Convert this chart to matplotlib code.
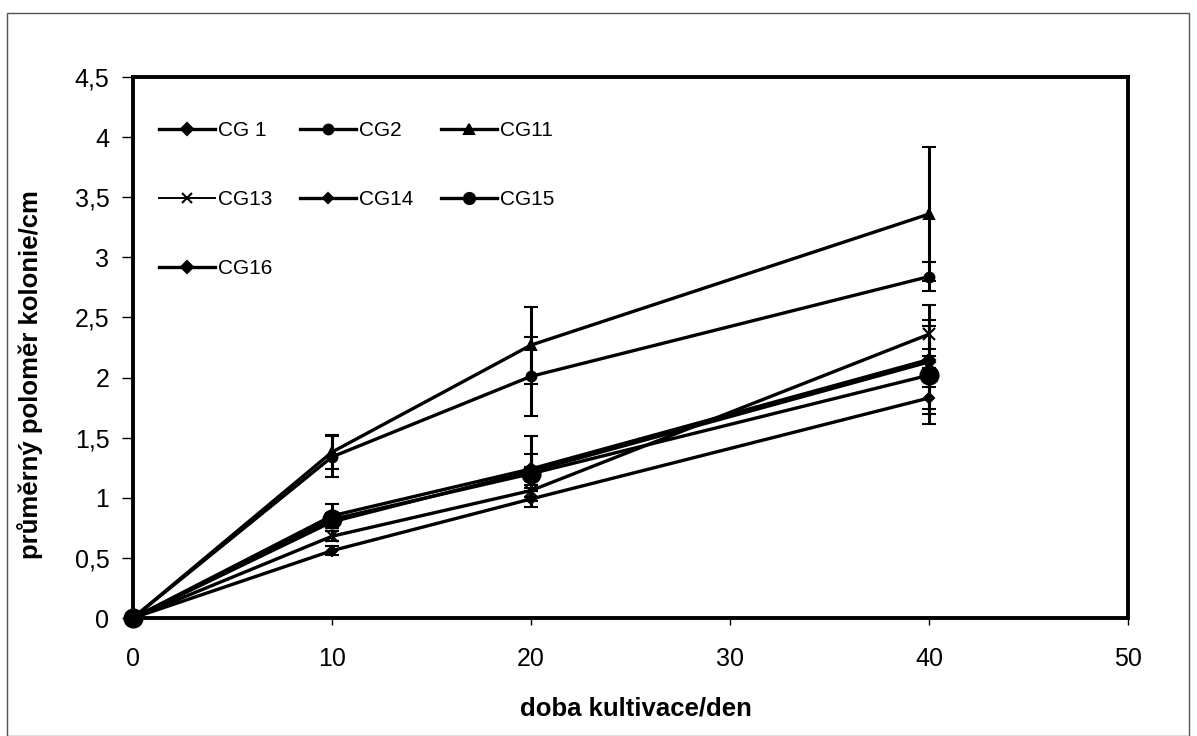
import matplotlib.pyplot as plt
from matplotlib.lines import Line2D
from matplotlib.patches import Rectangle

plt.rcParams['font.family'] = ['Liberation Sans', 'DejaVu Sans']

# culture time / days
days = [0, 10, 20, 40]

labels = ["CG 1", "CG2", "CG11", "CG13", "CG14", "CG15", "CG16"]

cg1 = [0, 0.85, 1.24, 2.15]
cg2 = [0, 1.34, 2.01, 2.84]
cg11 = [0, 1.38, 2.27, 3.36]
cg13 = [0, 0.68, 1.06, 2.36]
cg14 = [0, 0.56, 0.99, 1.83]
cg15 = [0, 0.82, 1.20, 2.02]
cg16 = [0, 0.80, 1.22, 2.13]

err_cg1 = [0, 0.10, 0.27, 0.45]
err_cg2 = [0, 0.17, 0.33, 0.12]
err_cg11 = [0, 0.14, 0.32, 0.56]
err_cg13 = [0, 0.04, 0.05, 0.12]
err_cg14 = [0, 0.04, 0.07, 0.09]
err_cg15 = [0, 0.05, 0.06, 0.41]
err_cg16 = [0, 0.05, 0.14, 0.05]

series = [cg1, cg2, cg11, cg13, cg14, cg15, cg16]
errors = [err_cg1, err_cg2, err_cg11, err_cg13, err_cg14, err_cg15, err_cg16]
markers = ["D", "o", "^", "x", "D", "o", "D"]
msizes = [6, 7, 7, 8, 5, 13, 6]
leg_msizes = [6, 7, 7, 7, 5, 8, 6]
leg_lw = [2.4, 2.4, 2.4, 1.4, 2.4, 2.4, 2.4]

W, H = 1197, 736
fig = plt.figure(figsize=(W / 100, H / 100), dpi=100)
ax = fig.add_axes([133 / W, 1 - 618 / H, (1128 - 133) / W, (618 - 77) / H])

for y, e, m, ms, lab in zip(series, errors, markers, msizes, labels):
    ax.errorbar(days, y, yerr=e, color='black', lw=2.4, marker=m, ms=ms,
                mew=1.5, capsize=5, capthick=2.5, elinewidth=2.2, label=lab,
                clip_on=False, zorder=3)

ax.set_xlim(0, 50)
ax.set_ylim(0, 4.5)
ax.set_xticks([0, 10, 20, 30, 40, 50])
ax.set_yticks([0, 0.5, 1, 1.5, 2, 2.5, 3, 3.5, 4, 4.5])
ax.set_yticklabels(["0", "0,5", "1", "1,5", "2", "2,5", "3", "3,5", "4", "4,5"])
ax.tick_params(axis='x', direction='out', length=5, width=1, labelsize=18, pad=16)
ax.tick_params(axis='y', direction='out', length=8, width=1, labelsize=18, pad=9)
for s in ax.spines.values():
    s.set_linewidth(2.8)

ax.set_xlabel("doba kultivace/den", fontsize=18.5, fontweight='bold')
ax.set_ylabel("průměrný poloměr kolonie/cm", fontsize=18.5, fontweight='bold')
ax.xaxis.set_label_coords(0.505, -0.146)
ax.yaxis.set_label_coords(-0.09, 0.45)

# legend is filled column by column, reorder so rows read CG1 CG2 CG11 / CG13 ...
handles = [Line2D([], [], color='black', lw=lw, marker=m, ms=ms, mew=1.5)
           for m, ms, lw in zip(markers, leg_msizes, leg_lw)]
order = [0, 3, 6, 1, 4, 2, 5]
ax.legend([handles[i] for i in order], [labels[i] for i in order], ncol=3,
          loc='upper left', bbox_to_anchor=(0.026, 0.918), frameon=False,
          fontsize=15, labelspacing=2.4, handlelength=2.7, handletextpad=0.15,
          columnspacing=1.3, borderpad=0, borderaxespad=0)

# outer chart border
fig.patches.append(Rectangle((7 / W, 0), 1182 / W, 1 - 13 / H,
                             transform=fig.transFigure, fill=False,
                             edgecolor='#555555', lw=1))

fig.savefig("out.png", dpi=100)
plt.close()
